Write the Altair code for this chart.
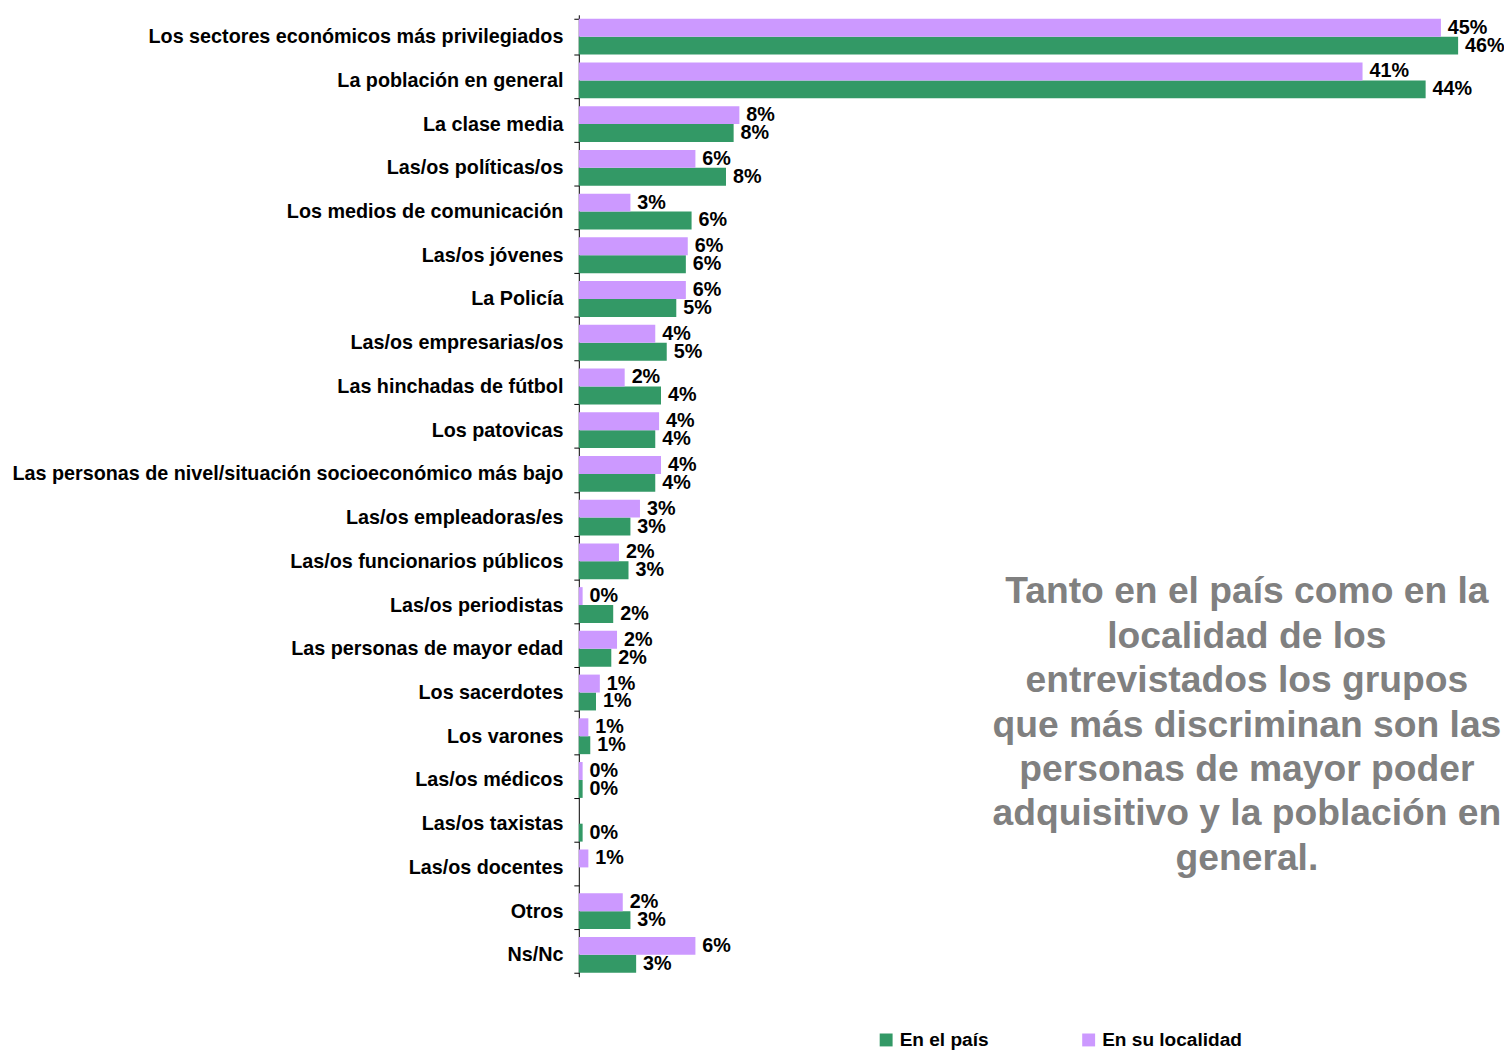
import altair as alt
import pandas as pd

categories = [
    "Los sectores económicos más privilegiados",
    "La población en general",
    "La clase media",
    "Las/os políticas/os",
    "Los medios de comunicación",
    "Las/os jóvenes",
    "La Policía",
    "Las/os empresarias/os",
    "Las hinchadas de fútbol ",
    "Los patovicas",
    "Las personas de nivel/situación socioeconómico más bajo",
    "Las/os empleadoras/es",
    "Las/os funcionarios públicos",
    "Las/os periodistas",
    "Las personas de mayor edad",
    "Los sacerdotes",
    "Los varones",
    "Las/os médicos",
    "Las/os taxistas",
    "Las/os docentes",
    "Otros",
    "Ns/Nc",
]

# estimated bar lengths (%)
pais = [46.0, 44.3, 8.1, 7.7, 5.9, 5.6, 5.1, 4.6, 4.3, 4.0, 4.0, 2.7, 2.6, 1.8,
        1.7, 0.9, 0.6, 0.2, 0.2, None, 2.7, 3.0]
localidad = [45.1, 41.0, 8.4, 6.1, 2.7, 5.7, 5.6, 4.0, 2.4, 4.2, 4.3, 3.2, 2.1, 0.2,
             2.0, 1.1, 0.5, 0.2, None, 0.5, 2.3, 6.1]

# labels as printed in the chart
pais_labels = ["46%", "44%", "8%", "8%", "6%", "6%", "5%", "5%", "4%", "4%", "4%", "3%",
               "3%", "2%", "2%", "1%", "1%", "0%", "0%", None, "3%", "3%"]
localidad_labels = ["45%", "41%", "8%", "6%", "3%", "6%", "6%", "4%", "2%", "4%", "4%", "3%",
                    "2%", "0%", "2%", "1%", "1%", "0%", None, "1%", "2%", "6%"]

series = ["En el país", "En su localidad"]
colors = ["#339966", "#CC99FF"]

note_lines = [
    "Tanto en el país como en la",
    "localidad de los",
    "entrevistados los grupos",
    "que más discriminan son las",
    "personas de mayor poder",
    "adquisitivo y la población en",
    "general.",
]

rows = []
for c, p, l, pl, ll in zip(categories, pais, localidad, pais_labels, localidad_labels):
    if p is not None:
        rows.append({"cat": c, "serie": series[0], "val": p, "lab": pl})
    if l is not None:
        rows.append({"cat": c, "serie": series[1], "val": l, "lab": ll})
df = pd.DataFrame(rows)

FONT = "Liberation Sans"
FS = 19.9

base = alt.Chart(df).encode(
    y=alt.Y("cat:N", sort=categories, title=None,
            scale=alt.Scale(paddingInner=0.18, paddingOuter=0.09),
            axis=alt.Axis(tickBand="extent", tickSize=5, tickColor="black",
                          domainColor="black", labelFont=FONT, labelFontSize=FS,
                          labelFontWeight="bold", labelColor="black", labelPadding=11,
                          labelLimit=700, grid=False)),
    yOffset=alt.YOffset("serie:N", sort=[series[1], series[0]],
                        scale=alt.Scale(paddingInner=0, paddingOuter=0)),
)

bars = base.mark_bar().encode(
    x=alt.X("val:Q", scale=alt.Scale(domain=[0, 48.4], nice=False), axis=None),
    color=alt.Color("serie:N", scale=alt.Scale(domain=series, range=colors),
                    legend=alt.Legend(title=None, orient="none", legendX=300, legendY=1023,
                                      direction="horizontal", columns=2, gridAlign="all",
                                      columnPadding=40, symbolType="square", symbolSize=169,
                                      symbolStrokeWidth=0, labelFont=FONT, labelFontSize=19.2,
                                      labelFontWeight="bold", labelColor="black",
                                      labelLimit=300)),
)

labels = base.mark_text(align="left", baseline="middle", dx=7, font=FONT,
                        fontSize=FS, fontWeight="bold", color="black").encode(
    x=alt.X("val:Q"),
    text="lab:N",
)

note = alt.Chart(pd.DataFrame({"a": [0]})).mark_text(
    text=note_lines, align="center", baseline="middle", font=FONT, fontSize=37.5,
    fontWeight="bold", color="#808080", lineHeight=44.7,
).encode(x=alt.value(673), y=alt.value(582))

chart = alt.layer(bars, labels, note).properties(
    width=932, height=969,
    autosize=alt.AutoSizeParams(type="none"),
    padding={"left": 575, "top": 3, "right": 0, "bottom": 74},
).configure_view(stroke=None)

chart.save("out.html", embed_options={"renderer": "svg", "actions": False})
